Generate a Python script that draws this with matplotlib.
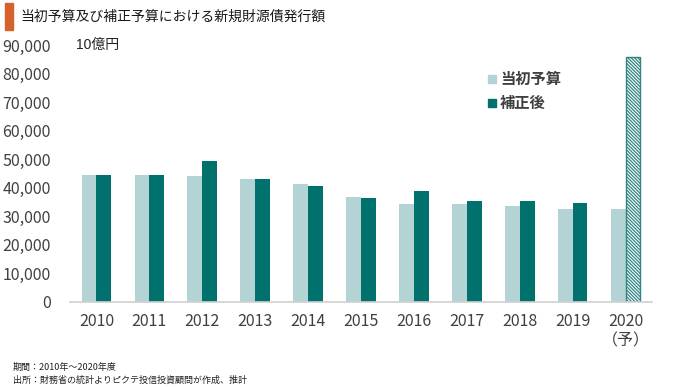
import numpy as np
import matplotlib
matplotlib.use('Agg')
import matplotlib.pyplot as plt
from matplotlib.patches import Rectangle

plt.rcParams['font.family'] = ['Liberation Sans Narrow', 'Noto Sans CJK JP', 'DejaVu Sans']
plt.rcParams['hatch.linewidth'] = 0.9
plt.rcParams['hatch.color'] = '#2E8682'

# データ（10億円）
years = ['2010', '2011', '2012', '2013', '2014', '2015', '2016', '2017', '2018', '2019', '2020\n（予）']
initial = [44300, 44300, 44200, 42900, 41300, 36900, 34400, 34400, 33700, 32700, 32600]
revised = [44300, 44300, 49500, 42900, 40600, 36500, 38900, 35400, 35300, 34800, 85800]
yticks = [0, 10000, 20000, 30000, 40000, 50000, 60000, 70000, 80000, 90000]

light = '#B3D3D5'
dark = '#00716C'
txt = '#404040'

fig = plt.figure(figsize=(6.8, 3.87), dpi=100)
ax = fig.add_axes([70 / 680, 1 - 302 / 387, 582 / 680, 257 / 387])

x = np.arange(len(years))
w = 0.28
ax.bar(x - w / 2, initial, w, color=light, label='当初予算')
bars = ax.bar(x + w / 2, revised, w, color=dark, label='補正後')
# 2020年は予測値なのでハッチング
bars[-1].set_facecolor('white')
bars[-1].set_edgecolor('#2E8682')
bars[-1].set_hatch('\\' * 10)
bars[-1].set_linewidth(1.0)

ax.set_xlim(-0.5, 10.5)
ax.set_ylim(0, 90000)
ax.set_yticks(yticks)
ax.set_yticklabels([f'{v:,}' for v in yticks])
ax.set_xticks(x)
ax.set_xticklabels(years)
ax.tick_params(axis='both', length=0, labelsize=11.5, colors=txt)
ax.tick_params(axis='x', pad=8)
ax.tick_params(axis='y', pad=14)
for s in ['top', 'right', 'left']:
    ax.spines[s].set_visible(False)
ax.spines['bottom'].set_color('#D0D0D0')
ax.spines['bottom'].set_linewidth(1.2)

ax.text(-0.38, 90000, '10億円', fontsize=10, color='#222222', va='center', ha='left',
        family=['Liberation Sans', 'Noto Sans CJK JP'])

# 凡例
fig.patches.append(Rectangle((488 / 680, 1 - 83 / 387), 8 / 680, 8 / 387, color=light,
                             transform=fig.transFigure))
fig.patches.append(Rectangle((488 / 680, 1 - 107 / 387), 8 / 680, 8 / 387, color=dark,
                             transform=fig.transFigure))
fig.text(500 / 680, 1 - 79 / 387, '当初予算', fontsize=11, fontweight='bold', color=txt,
         va='center', family=['Noto Sans CJK JP'])
fig.text(500 / 680, 1 - 103 / 387, '補正後', fontsize=11, fontweight='bold', color=txt,
         va='center', family=['Noto Sans CJK JP'])

# タイトル
fig.patches.append(Rectangle((5 / 680, 1 - 30 / 387), 8 / 680, 27 / 387, color='#D4622A',
                             transform=fig.transFigure))
fig.text(20 / 680, 1 - 17 / 387, '当初予算及び補正予算における新規財源債発行額', fontsize=10,
         color='#1a1a1a', va='center', family=['Noto Sans CJK JP'])

# 注記
fig.text(13 / 680, 1 - 367 / 387, '期間：2010年～2020年度', fontsize=6.5, color='#222222',
         va='center', family=['Noto Sans CJK JP', 'DejaVu Sans'])
fig.text(13 / 680, 1 - 380 / 387, '出所：財務省の統計よりピクテ投信投資顧問が作成、推計', fontsize=6.5,
         color='#222222', va='center', family=['Noto Sans CJK JP', 'DejaVu Sans'])

fig.savefig('out.png', dpi=100)
